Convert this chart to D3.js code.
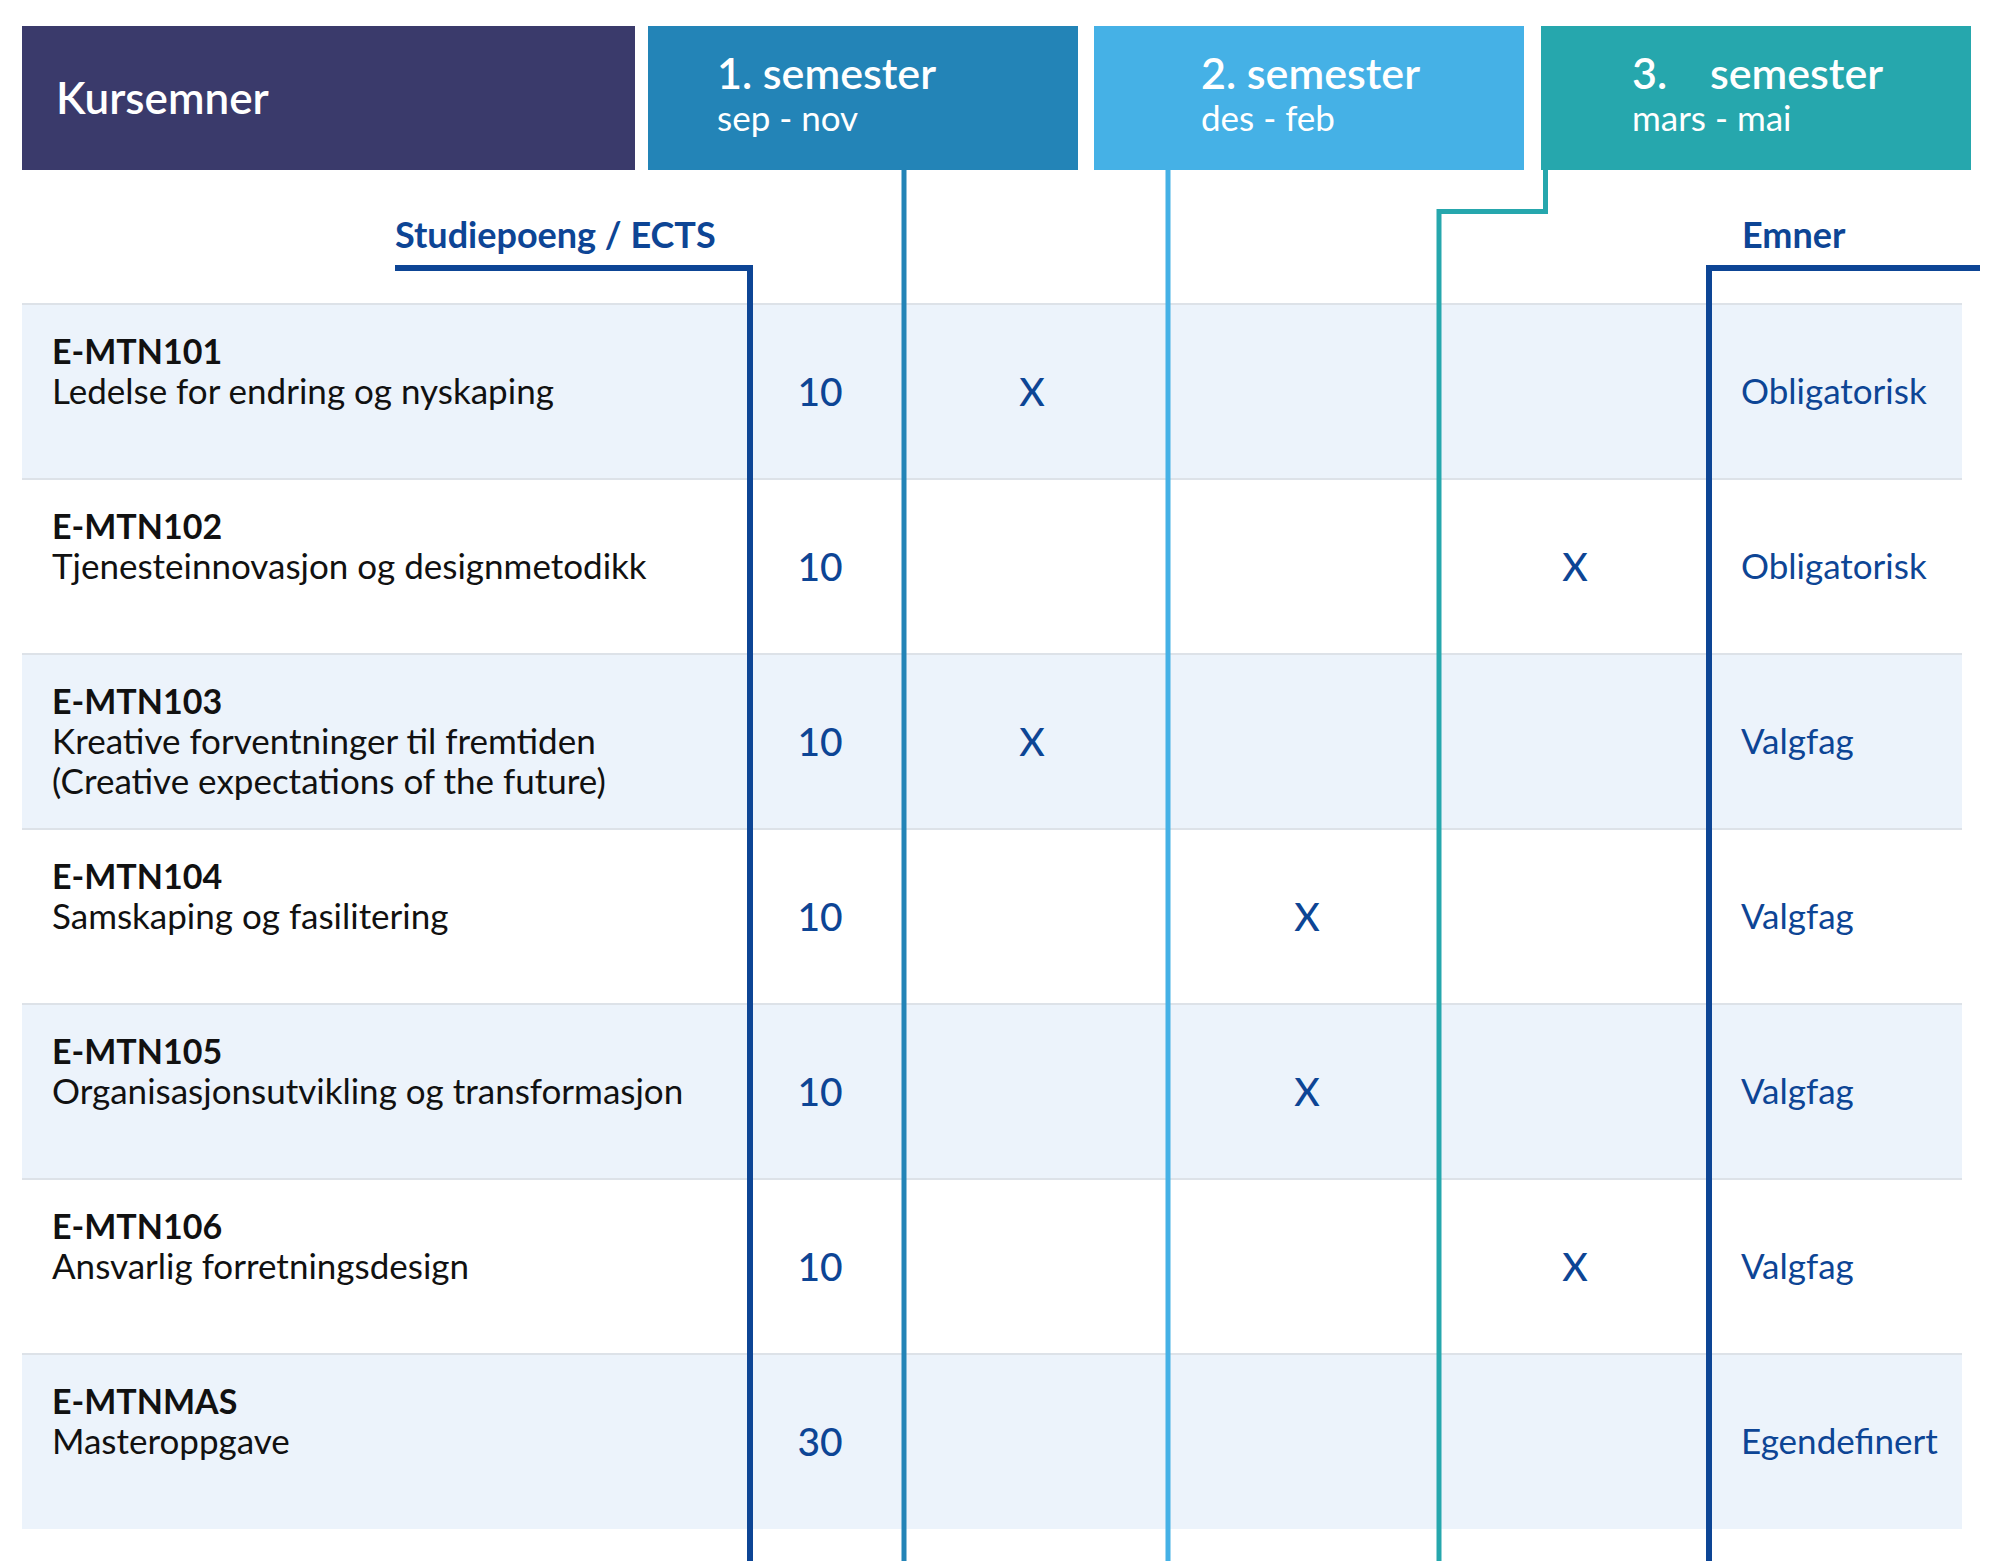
<!DOCTYPE html>
<html><head><meta charset="utf-8">
<script src="https://cdn.jsdelivr.net/npm/d3@7"></script>
<style>
html,body{margin:0;padding:0;background:#fff;}
svg{display:block;}
text{font-family:Lato,"Open Sans",sans-serif;}
</style></head>
<body>
<script>
// ---- data ----
const courseCodes = ["E-MTN101","E-MTN102","E-MTN103","E-MTN104","E-MTN105","E-MTN106","E-MTNMAS"];
const courseTitles = [
  ["Ledelse for endring og nyskaping"],
  ["Tjenesteinnovasjon og designmetodikk"],
  ["Kreative forventninger til fremtiden","(Creative expectations of the future)"],
  ["Samskaping og fasilitering"],
  ["Organisasjonsutvikling og transformasjon"],
  ["Ansvarlig forretningsdesign"],
  ["Masteroppgave"]
];
const ectsPoints = [10,10,10,10,10,10,30];
const courseSemester = [1,3,1,2,2,3,null];
const courseType = ["Obligatorisk","Obligatorisk","Valgfag","Valgfag","Valgfag","Valgfag","Egendefinert"];
const semesterNames = ["1. semester","2. semester","3.    semester"];
const semesterMonths = ["sep - nov","des - feb","mars - mai"];
const headerLabel = "Kursemner";
const ectsLabel = "Studiepoeng / ECTS";
const emnerLabel = "Emner";

// ---- layout ----
const W = 2000, H = 1561;
const C = {
  navy:"#3a3a6b", s1:"#2384b7", s2:"#45b1e6", s3:"#26a7ad",
  dark:"#0d4595", band:"#ecf3fb", sep:"#dde2e8", text:"#111111"
};
const semColors = [C.s1, C.s2, C.s3];

const svg = d3.select("body").append("svg").attr("width",W).attr("height",H);

const y = d3.scaleBand().domain(courseCodes).range([304,1529]).padding(0);
const semBoxX = d3.scaleOrdinal().domain([1,2,3]).range([648,1094,1541]);
const semTextX = d3.scaleOrdinal().domain([1,2,3]).range([717,1201,1632]);
const markX = d3.scaleOrdinal().domain([1,2,3]).range([1032,1307,1575]);
const boxW = 430, boxTop = 26, boxH = 144;

// row bands
const rows = svg.append("g").selectAll("g").data(courseCodes).join("g")
  .attr("transform", d => `translate(0,${y(d)})`);
rows.append("rect").attr("x",22).attr("width",1940).attr("height",y.bandwidth())
  .attr("fill",(d,i)=> i%2===0 ? C.band : "#ffffff");
rows.append("rect").attr("x",22).attr("width",1940).attr("y",-1).attr("height",2)
  .attr("fill",C.sep);

// header boxes
svg.append("rect").attr("x",22).attr("y",boxTop).attr("width",613).attr("height",boxH).attr("fill",C.navy);
svg.append("text").attr("x",56).attr("y",114).attr("fill","#fff")
  .attr("font-size",44).attr("font-weight",600).text(headerLabel);

const semG = svg.append("g").selectAll("g").data([1,2,3]).join("g");
semG.append("rect").attr("x",d=>semBoxX(d)).attr("y",boxTop).attr("width",boxW).attr("height",boxH)
  .attr("fill",d=>semColors[d-1]);
semG.append("text").attr("x",d=>semTextX(d)).attr("y",89).attr("fill","#fff")
  .attr("font-size",43).attr("font-weight",600).style("white-space","pre")
  .text(d=>semesterNames[d-1]);
semG.append("text").attr("x",d=>semTextX(d)).attr("y",131).attr("fill","#fff")
  .attr("font-size",35).text(d=>semesterMonths[d-1]);

// connector lines
const lines = svg.append("g").attr("fill","none");
lines.append("path").attr("d",`M395,268 H750 V${H}`).attr("stroke",C.dark).attr("stroke-width",6);
lines.append("path").attr("d",`M1980,268 H1709 V${H}`).attr("stroke",C.dark).attr("stroke-width",6);
lines.append("path").attr("d",`M904,170 V${H}`).attr("stroke",C.s1).attr("stroke-width",5);
lines.append("path").attr("d",`M1168,170 V${H}`).attr("stroke",C.s2).attr("stroke-width",5);
lines.append("path").attr("d",`M1545.5,170 V211.5 H1439 V${H}`).attr("stroke",C.s3).attr("stroke-width",5);

// column labels
svg.append("text").attr("x",395).attr("y",248).attr("fill",C.dark).attr("font-size",36)
  .attr("font-weight",700).text(ectsLabel);
svg.append("text").attr("x",1742).attr("y",248).attr("fill",C.dark).attr("font-size",36)
  .attr("font-weight",700).text(emnerLabel);

// row text
rows.append("text").attr("x",52).attr("y",60).attr("fill",C.text).attr("font-size",34)
  .attr("font-weight",700).text(d=>d);
rows.each(function(d,i){
  const g = d3.select(this);
  courseTitles[i].forEach((t,j)=>{
    g.append("text").attr("x",52).attr("y",100+40*j).attr("fill",C.text).attr("font-size",35).text(t);
  });
});
const mid = y.bandwidth()/2;
rows.append("text").attr("x",820).attr("y",mid).attr("dy","0.36em").attr("text-anchor","middle")
  .attr("fill",C.dark).attr("font-size",39).attr("font-weight",500).text((d,i)=>ectsPoints[i]);
rows.filter((d,i)=>courseSemester[i]!=null).append("text")
  .attr("x",(d)=>markX(courseSemester[courseCodes.indexOf(d)]))
  .attr("y",mid).attr("dy","0.36em").attr("text-anchor","middle")
  .attr("fill",C.dark).attr("font-size",39).attr("font-weight",500).text("X");
rows.append("text").attr("x",1741).attr("y",mid).attr("dy","0.36em")
  .attr("fill",C.dark).attr("font-size",35).text((d,i)=>courseType[i]);
</script>
</body></html>
